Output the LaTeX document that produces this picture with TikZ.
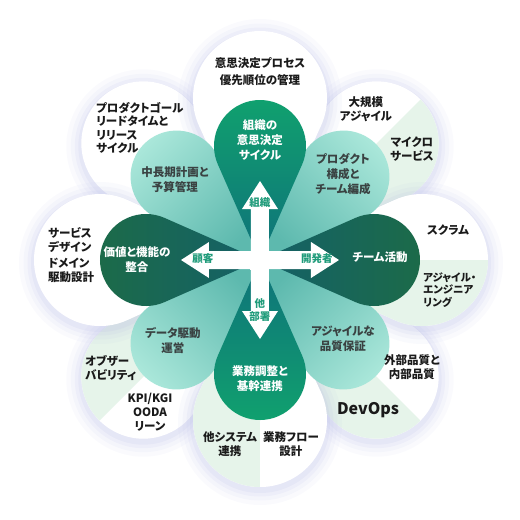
\documentclass[tikz,border=0pt]{standalone}
\usepackage{fontspec}
\setmainfont{Noto Sans CJK JP}[RawFeature=+palt]
\usepackage{tikz}
\usetikzlibrary{arrows}
\definecolor{glowcol}{HTML}{B8BCE6}
\definecolor{halfgreen}{HTML}{E6F4EA}
\definecolor{tealout}{HTML}{AAE7DA}
\definecolor{tealin}{HTML}{5DB9AE}
\definecolor{greenout}{HTML}{10A26E}
\definecolor{greenin}{HTML}{0F717A}
\definecolor{darkout}{HTML}{1C6B48}
\definecolor{darkin}{HTML}{146068}
\definecolor{arrowtext}{HTML}{1F9B7A}
\definecolor{outtext}{HTML}{1A1A1A}
\definecolor{midtext}{HTML}{3A4242}

% petal: [options] angle, distance of circle, radius
\newcommand{\petal}[4][]{%
\pgfmathsetmacro{\ptan}{asin(#4/#3)}%
\pgfmathsetmacro{\plen}{10*sqrt((#3/10)^2-(#4/10)^2)}%
\path[#1] (0,0) -- (#2+\ptan:\plen) arc[start angle=#2+90+\ptan, end angle=#2-90-\ptan, radius=#4] -- cycle;}

\begin{document}
\begin{tikzpicture}[line cap=round,line join=round,x=1pt,y=1pt,
  outlabel/.style={inner sep=0pt,align=center,text=outtext,font=\fontsize{11.5}{14}\selectfont\bfseries},
  leftlabel/.style={outlabel,align=left,anchor=west},
  greenlabel/.style={inner sep=0pt,align=center,text=white,font=\fontsize{11.5}{15}\selectfont\bfseries},
  teallabel/.style={inner sep=0pt,align=center,text=midtext,font=\fontsize{11.5}{15}\selectfont\bfseries},
  arrowlabel/.style={inner sep=0pt,align=center,text=arrowtext,font=\fontsize{10.5}{13}\selectfont\bfseries}]
\useasboundingbox (-260,-260) rectangle (260,260);
% outer petals, diagonal ones first
\foreach \a/\d/\r/\s in {135/165/62/0,45/165/62/1,-45/165/62/1,-135/165/62/1,90/162/67/0,0/162/66/1,-90/160/67/1,180/160/66/0}{
  \foreach \w/\o in {30/0.07,21/0.09,13/0.12,6/0.15}
    \petal[draw=glowcol,line width=\w,opacity=\o,yshift=-3]{\a}{\d}{\r};
  \petal[fill=white]{\a}{\d}{\r};
  \ifnum\s=1
  \begin{scope}
    \petal[clip]{\a}{\d}{\r};
    \fill[halfgreen] (0,0) -- (\a:400) -- (\a-90:400) -- cycle;
  \end{scope}
  \fi
}
% inner petals
\foreach \a in {135,45,-45,-135}{
  \pgfmathtruncatemacro{\sa}{\a-90}
  \petal[top color=tealout,bottom color=tealin,shading angle=\sa]{\a}{118}{46};
}
\foreach \a/\ca/\cb in {90/greenout/greenin,0/darkout/darkin,-90/greenout/greenin,180/darkout/darkin}{
  \pgfmathtruncatemacro{\sa}{\a-90}
  \petal[top color=\ca,bottom color=\cb,shading angle=\sa]{\a}{114}{46};
}
% cross of arrows
\foreach \a in {0,90,180,270}
\fill[white,rotate=\a] (9,-9) -- (51,-9) -- (51,-18) -- (79,0) -- (51,18) -- (51,9) -- (9,9) -- cycle;
\fill[white] (-9.5,-9.5) rectangle (9.5,9.5);
\node[arrowlabel] (soshiki) at (0,57) {組織};
\node[arrowlabel] (kaihatsu) at (57,1) {開発者};
\node[arrowlabel] (kokyaku) at (-57,1) {顧客};
\node[arrowlabel] (tabusho) at (0,-50) {他\\部署};
% inner texts
\node[greenlabel] (cycle) at (0,120) {組織の\\意思決定\\サイクル};
\node[greenlabel] (team) at (120,3) {チーム活動};
\node[greenlabel] (kikan) at (0,-119) {業務調整と\\基幹連携};
\node[greenlabel] (seigo) at (-123,0) {価値と機能の\\整合};
\node[teallabel] (kosei) at (83,86) {プロダクト\\構成と\\チーム編成};
\node[teallabel] (hinshitsu) at (83,-79) {アジャイルな\\品質保証};
\node[teallabel] (data) at (-87,-81) {データ駆動\\運営};
\node[teallabel] (keikaku) at (-85,80) {中長期計画と\\予算管理};
% outer texts
\node[outlabel] (process) at (0,188) {意思決定プロセス\\[3pt]優先順位の管理};
\node[outlabel] (daikibo) at (106,151) {大規模\\アジャイル};
\node[outlabel] (micro) at (152,111) {マイクロ\\サービス};
\node[outlabel] (scrum) at (188,30) {スクラム};
\node[leftlabel,font=\fontsize{10.5}{12.5}\selectfont\bfseries] (engineering) at (163,-30) {アジャイル・\\エンジニア\\リング};
\node[outlabel] (gaibu) at (152,-107) {外部品質と\\内部品質};
\node[outlabel,font=\fontsize{16}{18}\selectfont\bfseries] (devops) at (108,-150) {DevOps};
\node[outlabel] (tasystem) at (-30,-184) {他システム\\連携};
\node[outlabel] (flow) at (31,-184) {業務フロー\\設計};
\node[leftlabel] (observ) at (-175,-108) {オブザー\\バビリティ};
\node[outlabel] (kpi) at (-110,-152) {KPI/KGI\\OODA\\リーン};
\node[leftlabel] (service) at (-212,20) {サービス\\デザイン};
\node[leftlabel] (domain) at (-212,-10) {ドメイン\\駆動設計};
\node[leftlabel,font=\fontsize{11.5}{13.5}\selectfont\bfseries] (goal) at (-164,132) {プロダクトゴール\\リードタイムと\\リリース\\サイクル};
\end{tikzpicture}
\end{document}
